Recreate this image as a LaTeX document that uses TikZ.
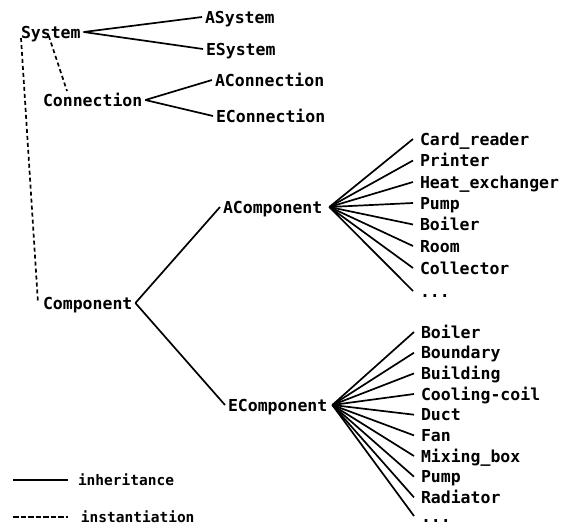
\documentclass[tikz,border=0pt]{standalone}
\usepackage{fontspec}
\newfontfamily\dmono{DejaVu Sans Mono}
\begin{document}
\begin{tikzpicture}[x=1pt,y=-1pt,
  lbl/.style={anchor=west,inner sep=0pt,outer sep=3pt,text height=12pt,text depth=0pt,font=\dmono\bfseries\fontsize{16.5}{18}\selectfont},
  leg/.style={lbl,text height=10.5pt,font=\dmono\bfseries\fontsize{14.5}{16}\selectfont},
  inh/.style={line width=1.7pt},
  inst/.style={line width=1.7pt,dash pattern=on 4pt off 3pt},
  legdash/.style={line width=1.7pt,dash pattern=on 5.5pt off 2pt}]
\useasboundingbox (0,0) rectangle (566,528);
% top part
\node[lbl] (sys) at (18,32) {System};
\node[lbl] (asys) at (202,17) {ASystem};
\node[lbl] (esys) at (203,49) {ESystem};
\node[lbl] (conn) at (40,100) {Connection};
\node[lbl] (aconn) at (212,80) {AConnection};
\node[lbl] (econn) at (213,116) {EConnection};
\node[lbl] (comp) at (40,303) {Component};
\node[lbl] (acomp) at (220,207) {AComponent};
\node[lbl] (ecomp) at (225,405) {EComponent};
% A list
\node[lbl] (a1) at (417,139) {Card\_reader};
\node[lbl] (a2) at (417,160.5) {Printer};
\node[lbl] (a3) at (417,182) {Heat\_exchanger};
\node[lbl] (a4) at (417,203) {Pump};
\node[lbl] (a5) at (417,224.5) {Boiler};
\node[lbl] (a6) at (417,246) {Room};
\node[lbl] (a7) at (417,268) {Collector};
\node[lbl] (a8) at (417,291) {...};
% E list
\node[lbl] (e1) at (418,332) {Boiler};
\node[lbl] (e2) at (418,352.7) {Boundary};
\node[lbl] (e3) at (418,373.4) {Building};
\node[lbl] (e4) at (418,394) {Cooling-coil};
\node[lbl] (e5) at (418,414.7) {Duct};
\node[lbl] (e6) at (418,435.4) {Fan};
\node[lbl] (e7) at (418,456) {Mixing\_box};
\node[lbl] (e8) at (418,476.7) {Pump};
\node[lbl] (e9) at (418,497.4) {Radiator};
\node[lbl] (e10) at (418,516) {...};
% legend
\coordinate (l1) at (13,480);
\coordinate (l2) at (13,517);
\node[leg] (inhtxt) at (75,480) {inheritance};
\node[leg] (insttxt) at (78,517) {instantiation};
% inheritance
\draw[inh] (sys.east) -- (asys.west);
\draw[inh] (sys.east) -- (esys.west);
\draw[inh] (conn.east) -- (aconn.west);
\draw[inh] (conn.east) -- (econn.west);
\draw[inh] (comp.east) -- (acomp.west);
\draw[inh] (comp.east) -- (ecomp.west);
\foreach \i in {1,...,8} \draw[inh] ([xshift=4pt]acomp.east) -- ([xshift=-4pt]a\i.west);
\foreach \i in {1,...,10} \draw[inh] ([xshift=2pt]ecomp.east) -- ([xshift=-4pt]e\i.west);
% instantiation
\draw[inst] ([shift={(3,-3)}]sys.south west) -- ([xshift=-2pt]comp.west);
\draw[inst] ([shift={(-2,-5)}]sys.south) -- ([xshift=27pt]conn.north west);
% legend lines
\draw[inh] (l1) -- ([xshift=-7pt]inhtxt.west);
\draw[legdash] (l2) -- ([xshift=-10pt]insttxt.west);
\end{tikzpicture}
\end{document}
